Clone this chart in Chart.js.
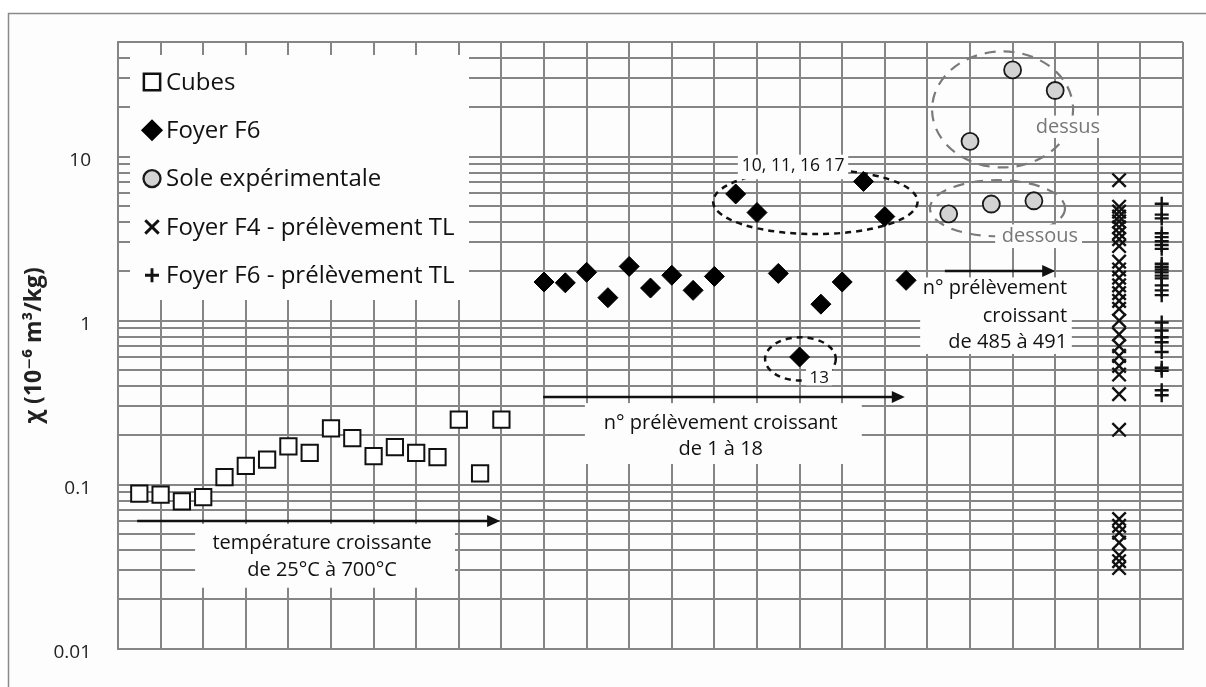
<!DOCTYPE html>
<html lang="fr">
<head>
<meta charset="UTF-8">
<title>Susceptibilité magnétique</title>
<script src="https://cdn.jsdelivr.net/npm/chart.js"></script>
<style>
  html, body { margin: 0; padding: 0; background: #fff; }
</style>
</head>
<body>
<canvas id="chart" width="1206" height="687"></canvas>
<script>
// Cubes : température croissante de 25°C à 700°C
const cubesX = [0.5, 1, 1.5, 2, 2.5, 3, 3.5, 4, 4.5, 5, 5.5, 6, 6.5, 7, 7.5, 8, 8.5, 9];
const cubesChi = [0.088, 0.087, 0.079, 0.084, 0.111, 0.130, 0.142, 0.171, 0.156, 0.220,
                  0.192, 0.149, 0.169, 0.156, 0.147, 0.249, 0.117, 0.249];

// Foyer F6 : prélèvements 1 à 18
const foyerF6X = [10, 10.5, 11, 11.5, 12, 12.5, 13, 13.5, 14, 14.5, 15, 15.5, 16, 16.5, 17, 17.5, 18, 18.5];
const foyerF6Chi = [1.72, 1.70, 1.97, 1.38, 2.14, 1.58, 1.89, 1.53, 1.86, 5.92,
                    4.56, 1.94, 0.60, 1.26, 1.72, 7.06, 4.31, 1.76];

// Sole expérimentale : prélèvements 485 à 491
const soleX = [19.5, 20, 20.5, 21, 21.5, 22];
const soleChi = [4.48, 12.4, 5.14, 33.8, 5.38, 25.3];

// prélèvements TL (une colonne chacun)
const foyerF4TLX = 23.5;
const foyerF4TLChi = [7.18, 4.95, 4.62, 4.31, 4.03, 3.71, 3.41, 3.14, 2.85, 2.29, 2.05, 1.83,
                      1.64, 1.47, 1.32, 1.18, 1.00, 0.825, 0.699, 0.609, 0.530, 0.469, 0.356,
                      0.216, 0.0617, 0.056, 0.0509, 0.0443, 0.0371, 0.0341, 0.031];
const foyerF6TLX = 24.5;
const foyerF6TLChi = [5.16, 4.43, 4.20, 3.41, 3.23, 3.05, 2.89, 2.74, 2.22, 2.13, 2.05, 1.97,
                      1.88, 1.81, 1.64, 1.53, 1.43, 0.973, 0.871, 0.791, 0.738, 0.643, 0.516,
                      0.495, 0.376, 0.351];

// axes
const yLabels = [0.01, 0.1, 1, 10];
const yMinor = [1, 2, 3, 4, 5, 6, 7, 8, 9];
const yMin = 0.01, yMax = 50;
const xMin = 0, xMax = 25;

const FONT = '"Open Sans", "DejaVu Sans", sans-serif';
const GRID = '#858585';
const PAPER = '#fdfdfd';

// lignes de la grille log : 1..9 x chaque décade
const yGrid = [];
yLabels.forEach(d => yMinor.forEach(m => {
  const v = +(m * d).toPrecision(3);
  if (v <= yMax) yGrid.push(v);
}));
const xGrid = [];
for (let i = xMin; i <= xMax; i++) xGrid.push(i);

// annotations (coordonnées dans les unités des axes)
const textBoxes = [          // [x1, x2, yHaut, yBas]
  [1.81, 7.91, 0.0576, 0.0235],
  [10.96, 17.46, 0.314, 0.1336],
  [18.83, 22.39, 1.834, 0.626]
];
const labelBoxes = [
  [14.55, 17.14, 10.28, 7.28],
  [21.46, 23.05, 17.8, 13.0],
  [20.59, 22.63, 3.86, 2.77],
  [16.15, 16.76, 0.516, 0.403]
];
const ellipses = [           // [x1, x2, yHaut, yBas, couleur, tirets, épaisseur]
  [13.97, 18.77, 8.36, 3.37, '#111', [6, 5], 2.5],
  [15.19, 16.85, 0.791, 0.431, '#111', [6, 5], 2.5],
  [19.11, 22.42, 43.8, 8.59, '#7a7a7a', [11, 8], 2.2],
  [19.06, 22.23, 7.18, 3.27, '#7a7a7a', [11, 8], 2.2]
];
const arrows = [             // [x1, x2, y]
  [0.45, 8.97, 0.060],
  [9.98, 18.47, 0.341],
  [19.41, 22.0, 2.02]
];
const notes = [
  { text: ['température croissante', 'de 25°C à 700°C'], x: 4.79, y: [0.0438, 0.0301], align: 'center', size: 20, color: '#111' },
  { text: ['n° prélèvement croissant', 'de 1 à 18'], x: 14.15, y: [0.235, 0.164], align: 'center', size: 20, color: '#111' },
  { text: ['n° prélèvement', 'croissant', 'de 485 à 491'], x: 22.28, y: [1.576, 1.057, 0.738], align: 'right', size: 20, color: '#111' },
  { text: ['10, 11, 16 17'], x: 15.85, y: [8.71], align: 'center', size: 17.5, color: '#111' },
  { text: ['dessus'], x: 22.30, y: [15.0], align: 'center', size: 20, color: '#777' },
  { text: ['dessous'], x: 21.64, y: [3.25], align: 'center', size: 20, color: '#777' },
  { text: ['13'], x: 16.46, y: [0.445], align: 'center', size: 17, color: '#111' }
];

function marker(ctx, style, x, y, r) {
  ctx.beginPath();
  if (style === 'rect') {
    const s = r * Math.SQRT1_2;
    ctx.rect(x - s, y - s, 2 * s, 2 * s);
  } else if (style === 'rectRot') {
    ctx.moveTo(x, y - r); ctx.lineTo(x + r, y); ctx.lineTo(x, y + r); ctx.lineTo(x - r, y); ctx.closePath();
  } else if (style === 'circle') {
    ctx.arc(x, y, r, 0, Math.PI * 2);
  } else if (style === 'crossRot') {
    const s = r * Math.SQRT1_2;
    ctx.moveTo(x - s, y - s); ctx.lineTo(x + s, y + s);
    ctx.moveTo(x + s, y - s); ctx.lineTo(x - s, y + s);
  } else if (style === 'cross') {
    ctx.moveTo(x, y - r); ctx.lineTo(x, y + r);
    ctx.moveTo(x - r, y); ctx.lineTo(x + r, y);
  }
}

const decor = {
  id: 'decor',
  beforeDraw(chart) {
    const ctx = chart.ctx;
    ctx.save();
    ctx.fillStyle = '#fff';
    ctx.fillRect(0, 0, chart.width, chart.height);
    ctx.fillStyle = PAPER;
    ctx.fillRect(8, 13, chart.width, chart.height);
    ctx.strokeStyle = '#8a8a8a';
    ctx.lineWidth = 1.5;
    ctx.beginPath();
    ctx.moveTo(8.5, chart.height); ctx.lineTo(8.5, 13.5); ctx.lineTo(chart.width, 13.5);
    ctx.stroke();
    ctx.restore();
  },
  beforeDatasetsDraw(chart) {
    const {ctx, chartArea: ca, scales: {x, y}} = chart;
    ctx.save();
    ctx.fillStyle = PAPER;
    // cadre de la légende
    ctx.fillRect(ca.left + 12, ca.top + 13, 339, 245);
    textBoxes.forEach(b => {
      const x1 = x.getPixelForValue(b[0]), x2 = x.getPixelForValue(b[1]);
      const y1 = y.getPixelForValue(b[2]), y2 = y.getPixelForValue(b[3]);
      ctx.fillRect(x1, y1, x2 - x1, y2 - y1);
    });
    ellipses.forEach(e => {
      const x1 = x.getPixelForValue(e[0]), x2 = x.getPixelForValue(e[1]);
      const y1 = y.getPixelForValue(e[2]), y2 = y.getPixelForValue(e[3]);
      ctx.beginPath();
      ctx.ellipse((x1 + x2) / 2, (y1 + y2) / 2, (x2 - x1) / 2, (y2 - y1) / 2, 0, 0, Math.PI * 2);
      ctx.strokeStyle = e[4];
      ctx.setLineDash(e[5]);
      ctx.lineWidth = e[6];
      ctx.stroke();
    });
    ctx.setLineDash([]);
    ctx.fillStyle = PAPER;
    labelBoxes.forEach(b => {
      const x1 = x.getPixelForValue(b[0]), x2 = x.getPixelForValue(b[1]);
      const y1 = y.getPixelForValue(b[2]), y2 = y.getPixelForValue(b[3]);
      ctx.fillRect(x1, y1, x2 - x1, y2 - y1);
    });
    ctx.restore();
  },
  afterDatasetsDraw(chart) {
    const {ctx, chartArea: ca, scales: {x, y}} = chart;
    ctx.save();
    // flèches
    arrows.forEach(a => {
      const x1 = x.getPixelForValue(a[0]), x2 = x.getPixelForValue(a[1]);
      const yy = Math.round(y.getPixelForValue(a[2]));
      ctx.strokeStyle = '#111';
      ctx.lineWidth = 2.5;
      ctx.beginPath();
      ctx.moveTo(x1, yy); ctx.lineTo(x2 - 8, yy);
      ctx.stroke();
      ctx.fillStyle = '#111';
      ctx.beginPath();
      ctx.moveTo(x2, yy); ctx.lineTo(x2 - 13, yy - 6); ctx.lineTo(x2 - 13, yy + 6); ctx.closePath();
      ctx.fill();
    });
    // textes
    ctx.textBaseline = 'middle';
    notes.forEach(n => {
      ctx.font = n.size + 'px ' + FONT;
      ctx.fillStyle = n.color;
      ctx.textAlign = n.align;
      n.text.forEach((t, i) => ctx.fillText(t, x.getPixelForValue(n.x), y.getPixelForValue(n.y[i])));
    });
    // légende
    ctx.textAlign = 'left';
    ctx.font = '24px ' + FONT;
    chart.data.datasets.forEach((ds, i) => {
      const cy = ca.top + 40 + i * 48.3;
      const cx = ca.left + 34;
      marker(ctx, ds.pointStyle, cx, cy, ds.pointRadius);
      if (ds.pointBackgroundColor) { ctx.fillStyle = ds.pointBackgroundColor; ctx.fill(); }
      ctx.strokeStyle = ds.pointBorderColor;
      ctx.lineWidth = ds.pointBorderWidth + 0.5;
      ctx.stroke();
      ctx.fillStyle = '#111';
      ctx.fillText(ds.label, ca.left + 48, cy + 1);
    });
    ctx.restore();
  }
};

new Chart(document.getElementById('chart'), {
  type: 'scatter',
  data: {
    datasets: [
      {
        label: 'Cubes',
        data: cubesX.map((v, i) => ({ x: v, y: cubesChi[i] })),
        pointStyle: 'rect', pointRadius: 11.5,
        pointBackgroundColor: '#ffffff', pointBorderColor: '#111', pointBorderWidth: 2
      },
      {
        label: 'Foyer F6',
        data: foyerF6X.map((v, i) => ({ x: v, y: foyerF6Chi[i] })),
        pointStyle: 'rectRot', pointRadius: 10,
        pointBackgroundColor: '#000', pointBorderColor: '#000', pointBorderWidth: 1
      },
      {
        label: 'Sole expérimentale',
        data: soleX.map((v, i) => ({ x: v, y: soleChi[i] })),
        pointStyle: 'circle', pointRadius: 8.5,
        pointBackgroundColor: '#d3d3d3', pointBorderColor: '#1a1a1a', pointBorderWidth: 1.8
      },
      {
        label: 'Foyer F4 - prélèvement TL',
        data: foyerF4TLChi.map(v => ({ x: foyerF4TLX, y: v })),
        pointStyle: 'crossRot', pointRadius: 9.5,
        pointBorderColor: '#111', pointBorderWidth: 2.4
      },
      {
        label: 'Foyer F6 - prélèvement TL',
        data: foyerF6TLChi.map(v => ({ x: foyerF6TLX, y: v })),
        pointStyle: 'cross', pointRadius: 7,
        pointBorderColor: '#111', pointBorderWidth: 2.4
      }
    ]
  },
  options: {
    responsive: false,
    animation: false,
    events: [],
    layout: { padding: { top: 42, right: 23, left: 0, bottom: 0 } },
    plugins: {
      legend: { display: false },
      tooltip: { enabled: false }
    },
    scales: {
      x: {
        type: 'linear', min: xMin, max: xMax,
        afterBuildTicks: s => { s.ticks = xGrid.map(v => ({ value: v })); },
        afterFit: s => { s.height = 26; },
        ticks: { display: false, autoSkip: false },
        grid: { color: GRID, lineWidth: 2, drawTicks: false },
        border: { color: GRID, width: 2 }
      },
      y: {
        type: 'logarithmic', min: yMin, max: yMax,
        afterBuildTicks: s => { s.ticks = yGrid.map(v => ({ value: v })); },
        afterFit: s => { s.width = 118; },
        ticks: {
          autoSkip: false, padding: 27, labelOffset: 4, color: '#222',
          font: { family: FONT, size: 19 },
          callback: v => yLabels.some(l => Math.abs(l - v) < l * 1e-6) ? String(v) : ''
        },
        grid: { color: GRID, lineWidth: 2, drawTicks: false },
        border: { color: GRID, width: 2 },
        title: {
          display: true, text: 'χ (10⁻⁶ m³/kg)', color: '#222',
          font: { family: FONT, size: 23, weight: 'bold' },
          padding: { top: 21, bottom: 0 }
        }
      }
    }
  },
  plugins: [decor]
});
</script>
</body>
</html>
